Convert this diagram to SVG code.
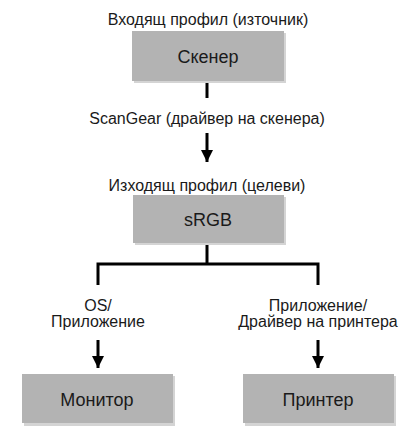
<svg xmlns="http://www.w3.org/2000/svg" width="416" height="446" viewBox="0 0 416 446">
<style>
text{font-family:"Liberation Sans",Arial,sans-serif;fill:#1a1a1a;text-anchor:middle}
.lbl{font-size:16px}
.box{fill:#b3b3b3}
.shadow{fill:#d4d4d4}
.bt{font-size:18px}
.ln{stroke:#000;stroke-width:3;fill:none}
</style>
<defs>
<marker id="ah" viewBox="0 0 10 10" refX="10" refY="5" markerWidth="4" markerHeight="4" markerUnits="strokeWidth" orient="auto">
<path d="M0,0 L10,5 L0,10 z" fill="#000"/>
</marker>
</defs>
<rect width="416" height="446" fill="#fff"/>
<g id="connectors">
<line class="ln" x1="207" y1="81" x2="207" y2="98"/>
<line class="ln" x1="207" y1="133" x2="207" y2="162" marker-end="url(#ah)"/>
<line class="ln" x1="207" y1="243" x2="207" y2="264"/>
<path class="ln" d="M98,285 V264 H318 V285"/>
<line class="ln" x1="98" y1="340" x2="98" y2="368" marker-end="url(#ah)"/>
<line class="ln" x1="318" y1="340" x2="318" y2="368" marker-end="url(#ah)"/>
</g>
<g id="label-scangear"><text class="lbl" x="207" y="124">ScanGear (драйвер на скенера)</text></g>
<g id="scanner">
<text class="lbl" x="208" y="25">Входящ профил (източник)</text>
<rect class="shadow" x="134" y="33" width="152" height="50"/>
<rect class="box" x="132" y="31" width="152" height="50"/>
<text class="bt" x="208" y="63">Скенер</text>
</g>
<g id="srgb">
<text class="lbl" x="207" y="191">Изходящ профил (целеви)</text>
<rect class="shadow" x="135" y="197" width="151" height="48"/>
<rect class="box" x="133" y="195" width="151" height="48"/>
<text class="bt" x="208" y="226">sRGB</text>
</g>
<g id="label-os">
<text class="lbl" x="98" y="311">OS/</text>
<text class="lbl" x="98" y="327">Приложение</text>
</g>
<g id="label-app">
<text class="lbl" x="318" y="311">Приложение/</text>
<text class="lbl" x="318" y="327">Драйвер на принтера</text>
</g>
<g id="monitor">
<rect class="shadow" x="24" y="376" width="151" height="50"/>
<rect class="box" x="22" y="374" width="151" height="49"/>
<text class="bt" x="97" y="406">Монитор</text>
</g>
<g id="printer">
<rect class="shadow" x="245" y="376" width="151" height="50"/>
<rect class="box" x="243" y="374" width="151" height="49"/>
<text class="bt" x="318" y="406">Принтер</text>
</g>
</svg>
